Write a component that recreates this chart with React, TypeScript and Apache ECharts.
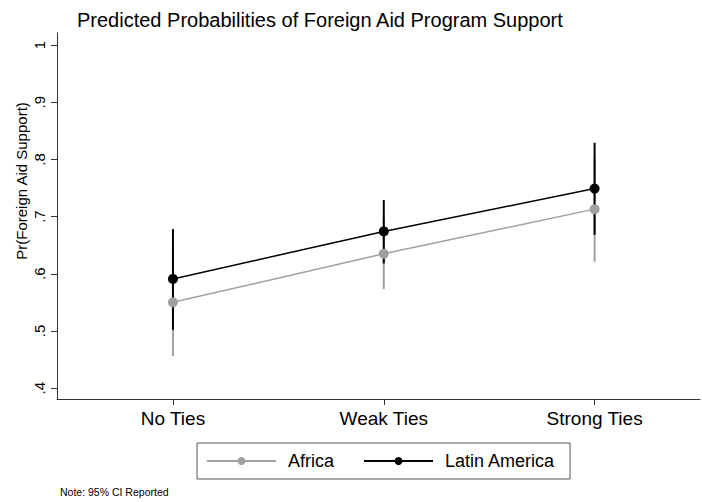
import React, { useEffect, useRef } from "react";
import * as echarts from "echarts";

const categories = ["No Ties", "Weak Ties", "Strong Ties"];
const yTicks = [0.4, 0.5, 0.6, 0.7, 0.8, 0.9, 1.0];
const yTickLabels = [".4", ".5", ".6", ".7", ".8", ".9", "1"];

const africaMean = [0.55, 0.635, 0.713];
const africaLow = [0.456, 0.573, 0.621];
const africaHigh = [0.644, 0.697, 0.805];

const latamMean = [0.591, 0.674, 0.749];
const latamLow = [0.502, 0.618, 0.668];
const latamHigh = [0.678, 0.729, 0.829];

const FONT = "Liberation Sans";
const GREY = "#a0a0a0";
const BLACK = "#000000";

function ciData(low: number[], high: number[]) {
  return low.map((l, i) => [i, l, high[i]]);
}

function ciSeries(name: string, low: number[], high: number[], color: string) {
  return {
    type: "custom",
    name,
    data: ciData(low, high),
    renderItem: (params: any, api: any) => {
      const p1 = api.coord([api.value(0), api.value(1)]);
      const p2 = api.coord([api.value(0), api.value(2)]);
      return {
        type: "line",
        shape: { x1: p1[0], y1: p1[1], x2: p2[0], y2: p2[1] },
        style: { stroke: color, lineWidth: 2 },
      };
    },
    encode: { x: 0, y: [1, 2] },
    silent: true,
  };
}

export default function App() {
  const ref = useRef<HTMLDivElement>(null);
  useEffect(() => {
    if (!ref.current) return;
    const chart = echarts.init(ref.current, undefined, { renderer: "svg" });
    chart.setOption({
      animation: false,
      backgroundColor: "#ffffff",
      textStyle: { fontFamily: FONT },
      title: {
        text: "Predicted Probabilities of Foreign Aid Program Support",
        left: 72,
        top: 5,
        textStyle: { fontFamily: FONT, fontSize: 20, fontWeight: "normal", color: "#000" },
      },
      grid: { left: 57, right: 2, top: 33, bottom: 103, containLabel: false },
      xAxis: {
        type: "value",
        min: -0.55,
        max: 2.5,
        splitLine: { show: false },
        axisLine: { show: true, onZero: false, lineStyle: { color: "#333", width: 1 } },
        axisTick: { show: true, length: 6, customValues: [0, 1, 2], lineStyle: { color: "#333" } },
        axisLabel: {
          customValues: [0, 1, 2],
          formatter: (v: number) => categories[Math.round(v)] ?? "",
          fontFamily: FONT,
          fontSize: 19,
          color: "#000",
          margin: 10,
        },
      },
      yAxis: {
        type: "value",
        min: 0.381,
        max: 1.021,
        splitLine: { show: false },
        axisLine: { show: true, onZero: false, lineStyle: { color: "#333", width: 1 } },
        axisTick: { show: true, length: 6, customValues: yTicks, lineStyle: { color: "#333" } },
        axisLabel: {
          customValues: yTicks,
          formatter: (v: number) => {
            const i = yTicks.findIndex((t) => Math.abs(t - v) < 1e-6);
            return i >= 0 ? yTickLabels[i] : "";
          },
          rotate: 90,
          fontFamily: FONT,
          fontSize: 15,
          color: "#000",
          margin: 10,
        },
      },
      legend: {
        data: ["Africa", "Latin America"],
        left: 197,
        top: 443,
        orient: "horizontal",
        borderColor: "#555",
        borderWidth: 1,
        padding: [9, 15, 9, 9],
        itemWidth: 69,
        itemHeight: 10,
        itemGap: 29,
        textStyle: { fontFamily: FONT, fontSize: 18, color: "#000", padding: [0, 0, 0, 7] },
      },
      graphic: [
        {
          type: "text",
          x: 21,
          y: 181,
          rotation: Math.PI / 2,
          style: {
            text: "Pr(Foreign Aid Support)",
            fontFamily: FONT,
            fontSize: 15,
            fill: "#000",
            align: "center",
            verticalAlign: "middle",
          },
        },
        {
          type: "text",
          left: 60,
          top: 486,
          style: {
            text: "Note: 95% CI Reported",
            fontFamily: FONT,
            fontSize: 10.5,
            fill: "#000",
          },
        },
      ],
      series: [
        ciSeries("Africa CI", africaLow, africaHigh, GREY),
        ciSeries("Latin America CI", latamLow, latamHigh, BLACK),
        {
          type: "line",
          name: "Africa",
          data: africaMean.map((v, i) => [i, v]),
          symbol: "circle",
          symbolSize: 10,
          itemStyle: { color: GREY },
          lineStyle: { color: GREY, width: 1.5 },
        },
        {
          type: "line",
          name: "Latin America",
          data: latamMean.map((v, i) => [i, v]),
          symbol: "circle",
          symbolSize: 10,
          itemStyle: { color: BLACK },
          lineStyle: { color: BLACK, width: 1.5 },
        },
      ],
    });
    return () => chart.dispose();
  }, []);
  return <div ref={ref} style={{ width: 702, height: 502, position: "absolute", left: 0, top: 0 }} />;
}
